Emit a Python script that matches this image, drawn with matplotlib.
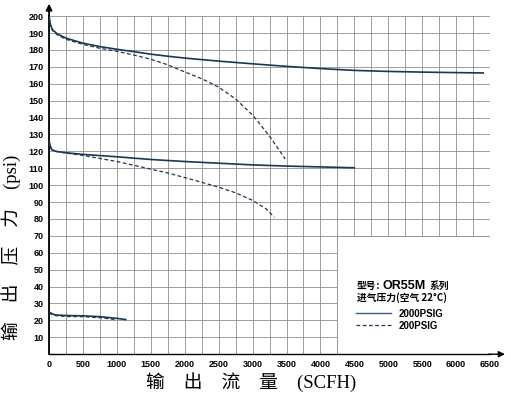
import matplotlib
matplotlib.use("Agg")
import matplotlib.pyplot as plt
from matplotlib.patches import Rectangle
from matplotlib.lines import Line2D

# 输出流量 (SCFH) / 输出压力 (psi)，读自原图
flow_hi_2000 = [0, 20, 50, 120, 250, 500, 750, 1000, 1250, 1500, 1750, 2000, 2500,
                3000, 3500, 4000, 4500, 5000, 5500, 6000, 6400]
p_hi_2000 = [200, 195, 192, 189.5, 187, 184, 182, 180.4, 179, 177.5, 176.3, 175.2, 173.4,
             171.8, 170.3, 169, 167.9, 167.3, 166.9, 166.6, 166.4]

flow_hi_200 = [0, 20, 50, 120, 250, 500, 750, 1000, 1250, 1500, 1750, 2000, 2250, 2500,
               2750, 3000, 3250, 3480]
p_hi_200 = [200, 195, 191.5, 189, 186.3, 183.3, 181, 179.2, 177, 174.5, 171.2, 167, 163,
            158, 151, 141.5, 129, 115.5]

flow_mid_2000 = [0, 15, 40, 100, 250, 500, 1000, 1500, 2000, 2500, 3000, 3500, 4000, 4500]
p_mid_2000 = [126, 123.5, 121, 120, 119.2, 118.2, 116.8, 115.2, 114, 113, 112, 111.3,
              110.8, 110.3]

flow_mid_200 = [0, 15, 40, 100, 250, 500, 1000, 1500, 1750, 2000, 2250, 2500, 2750, 3000,
                3200, 3320]
p_mid_200 = [126, 123.5, 121, 120, 119, 117.6, 114, 109.5, 107.2, 104.5, 101.7, 98.8,
             95.5, 91, 86, 81]

flow_lo_2000 = [0, 50, 100, 250, 500, 750, 1000, 1130]
p_lo_2000 = [25, 23.8, 23.2, 22.9, 22.7, 22.2, 21.2, 20.5]

flow_lo_200 = [0, 50, 100, 250, 500, 750, 900, 1000]
p_lo_200 = [24.5, 23.3, 22.8, 22.3, 22.2, 21.6, 20.9, 20.3]

line_color = "#1d3556"
grid_color = "#8f8f8f"
cjk = ["Noto Sans CJK SC", "DejaVu Sans"]
serif = ["Liberation Serif", "Noto Sans CJK SC"]

fig = plt.figure(figsize=(5.11, 3.94), dpi=100)
ax = fig.add_axes([0.096, 0.101, 0.863, 0.858])
ax.set_xlim(0, 6500)
ax.set_ylim(0, 200)

# 网格
ax.set_xticks(range(0, 6501, 500))
ax.set_xticks(range(250, 6501, 500), minor=True)
ax.set_yticks(range(10, 201, 10))
ax.grid(which="both", color=grid_color, linewidth=0.6, zorder=0)
ax.tick_params(which="both", length=0, pad=4)
for lab in ax.get_xticklabels() + ax.get_yticklabels():
    lab.set_fontfamily("Liberation Sans")
    lab.set_fontweight("bold")
    lab.set_fontsize(6.5)

# 图例区域空白
ax.add_patch(Rectangle((4250, 0), 2250, 70, facecolor="white", edgecolor=grid_color,
                       linewidth=0.6, zorder=2))

for sp in ["top", "right"]:
    ax.spines[sp].set_visible(False)
ax.spines["left"].set_linewidth(1.3)
ax.spines["bottom"].set_linewidth(1.0)
ax.annotate("", xy=(0, 1.045), xytext=(0, 0.99), xycoords="axes fraction",
            arrowprops=dict(arrowstyle="-|>", color="k", lw=1.3, mutation_scale=9))
ax.annotate("", xy=(1.04, 0), xytext=(0.99, 0), xycoords="axes fraction",
            arrowprops=dict(arrowstyle="-|>", color="k", lw=1.0, mutation_scale=9))

kw = dict(color=line_color, linewidth=1.2, zorder=3)
kw_d = dict(color=line_color, linewidth=0.9, dashes=(3, 2), zorder=3)
ax.plot(flow_hi_2000, p_hi_2000, **kw)
ax.plot(flow_hi_200, p_hi_200, **kw_d)
ax.plot(flow_mid_2000, p_mid_2000, **kw)
ax.plot(flow_mid_200, p_mid_200, **kw_d)
ax.plot(flow_lo_2000, p_lo_2000, **kw)
ax.plot(flow_lo_200, p_lo_200, **kw_d)

# 图例文字
fig.text(0.698, 0.267, "型号：", family=cjk, fontsize=7, fontweight="bold")
fig.text(0.7495, 0.267, "OR55M", family="Liberation Sans", fontsize=9, fontweight="bold")
fig.text(0.8415, 0.267, "系列", family=cjk, fontsize=7, fontweight="bold")
fig.text(0.698, 0.237, "进气压力(空气 22°C)", family=cjk, fontsize=7, fontweight="bold")
handles = [Line2D([], [], color="#3a5a8a", linewidth=1.0),
           Line2D([], [], color=line_color, linewidth=0.9, linestyle="--", dashes=(3, 2))]
fig.legend(handles, ["2000PSIG", "200PSIG"], loc="upper left",
           bbox_to_anchor=(0.697, 0.216), frameon=False, borderpad=0,
           borderaxespad=0, handlelength=3.6, handletextpad=0.8, labelspacing=0.2,
           prop={"family": "Liberation Sans", "weight": "bold", "size": 7})

fig.text(0.022, 0.373, "输    出    压    力    (psi)", rotation=90, ha="center",
         va="center", family=serif, fontsize=13.5)
fig.text(0.491, 0.03, "输    出    流    量    (SCFH)", ha="center", va="center",
         family=serif, fontsize=13.5)

fig.savefig("out.png", dpi=100)
